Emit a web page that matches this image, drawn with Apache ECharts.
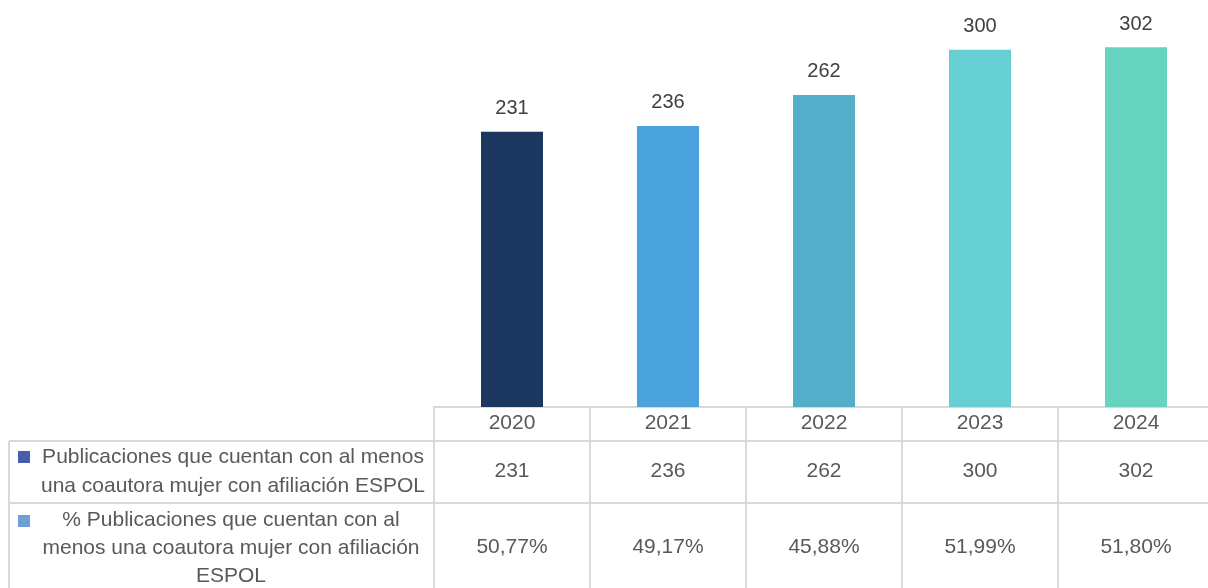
<!DOCTYPE html>
<html>
<head>
<meta charset="utf-8">
<script src="https://cdn.jsdelivr.net/npm/echarts@6/dist/echarts.min.js"></script>
<style>
  html, body { margin: 0; padding: 0; background: #ffffff; overflow: hidden; }
  #chart { width: 1214px; height: 588px; }
</style>
</head>
<body>
<div id="chart"></div>
<script>
// Publications with at least one female co-author affiliated with ESPOL
const years = ['2020', '2021', '2022', '2023', '2024'];
const publications = [231, 236, 262, 300, 302];
const sharePercent = [50.77, 49.17, 45.88, 51.99, 51.80];
const rowNames = [
  'Publicaciones que cuentan con al menos\nuna coautora mujer con afiliación ESPOL',
  '% Publicaciones que cuentan con al\nmenos una coautora mujer con afiliación\nESPOL'
];

const barPalette = ['#1B365F', '#4BA3DD', '#52AEC9', '#66CFD3', '#66D3BE'];
const markerPalette = ['#4A5DA8', '#6E9FD5'];
const tableLine = '#D9D9D9';
const textColor = '#595959';
const font = '"Liberation Sans", Arial, sans-serif';

const fmtPercent = v => v.toFixed(2).replace('.', ',') + '%';

const chart = echarts.init(document.getElementById('chart'));

const gridLeft = 434, gridBottomY = 407;

const rowAxis = (data, offset) => ({
  type: 'category',
  gridIndex: 0,
  position: 'bottom',
  offset: offset,
  data: data,
  axisLine: { show: false },
  axisTick: { show: false },
  axisLabel: { color: textColor, fontSize: 21, fontFamily: font, margin: 0, verticalAlign: 'middle', lineHeight: 22 }
});

chart.setOption({
  animation: false,
  grid: { left: gridLeft, right: 0, top: 2, bottom: 588 - gridBottomY, containLabel: false },
  xAxis: [
    {
      type: 'category',
      data: years,
      position: 'bottom',
      axisLine: { show: true, lineStyle: { color: tableLine, width: 2 } },
      axisTick: { show: true, inside: false, length: 190, lineStyle: { color: tableLine, width: 2 } },
      axisLabel: { color: textColor, fontSize: 21, fontFamily: font, margin: 16, verticalAlign: 'middle', lineHeight: 22 }
    },
    rowAxis(publications.map(String), 64),
    rowAxis(sharePercent.map(fmtPercent), 140)
  ],
  yAxis: { type: 'value', min: 0, max: 340, show: false },
  series: [{
    type: 'bar',
    xAxisIndex: 0,
    data: publications.map((v, i) => ({ value: v, itemStyle: { color: barPalette[i] } })),
    barWidth: 62,
    label: { show: true, position: 'top', distance: 13, color: '#404040', fontSize: 20, fontFamily: font }
  }],
  graphic: [
    { type: 'line', shape: { x1: 9, y1: 441, x2: 1214, y2: 441 }, style: { stroke: tableLine, lineWidth: 2 } },
    { type: 'line', shape: { x1: 9, y1: 503, x2: 1214, y2: 503 }, style: { stroke: tableLine, lineWidth: 2 } },
    { type: 'line', shape: { x1: 9, y1: 441, x2: 9, y2: 588 }, style: { stroke: tableLine, lineWidth: 2 } },
    { type: 'rect', shape: { x: 18, y: 451, width: 12, height: 12 }, style: { fill: markerPalette[0] } },
    { type: 'rect', shape: { x: 18, y: 515, width: 12, height: 12 }, style: { fill: markerPalette[1] } },
    { type: 'text', x: 233, y: 472, style: { text: rowNames[0], fill: textColor, font: '21px ' + font, align: 'center', verticalAlign: 'middle', lineHeight: 29 } },
    { type: 'text', x: 231, y: 548, style: { text: rowNames[1], fill: textColor, font: '21px ' + font, align: 'center', verticalAlign: 'middle', lineHeight: 28 } }
  ]
});
</script>
</body>
</html>
